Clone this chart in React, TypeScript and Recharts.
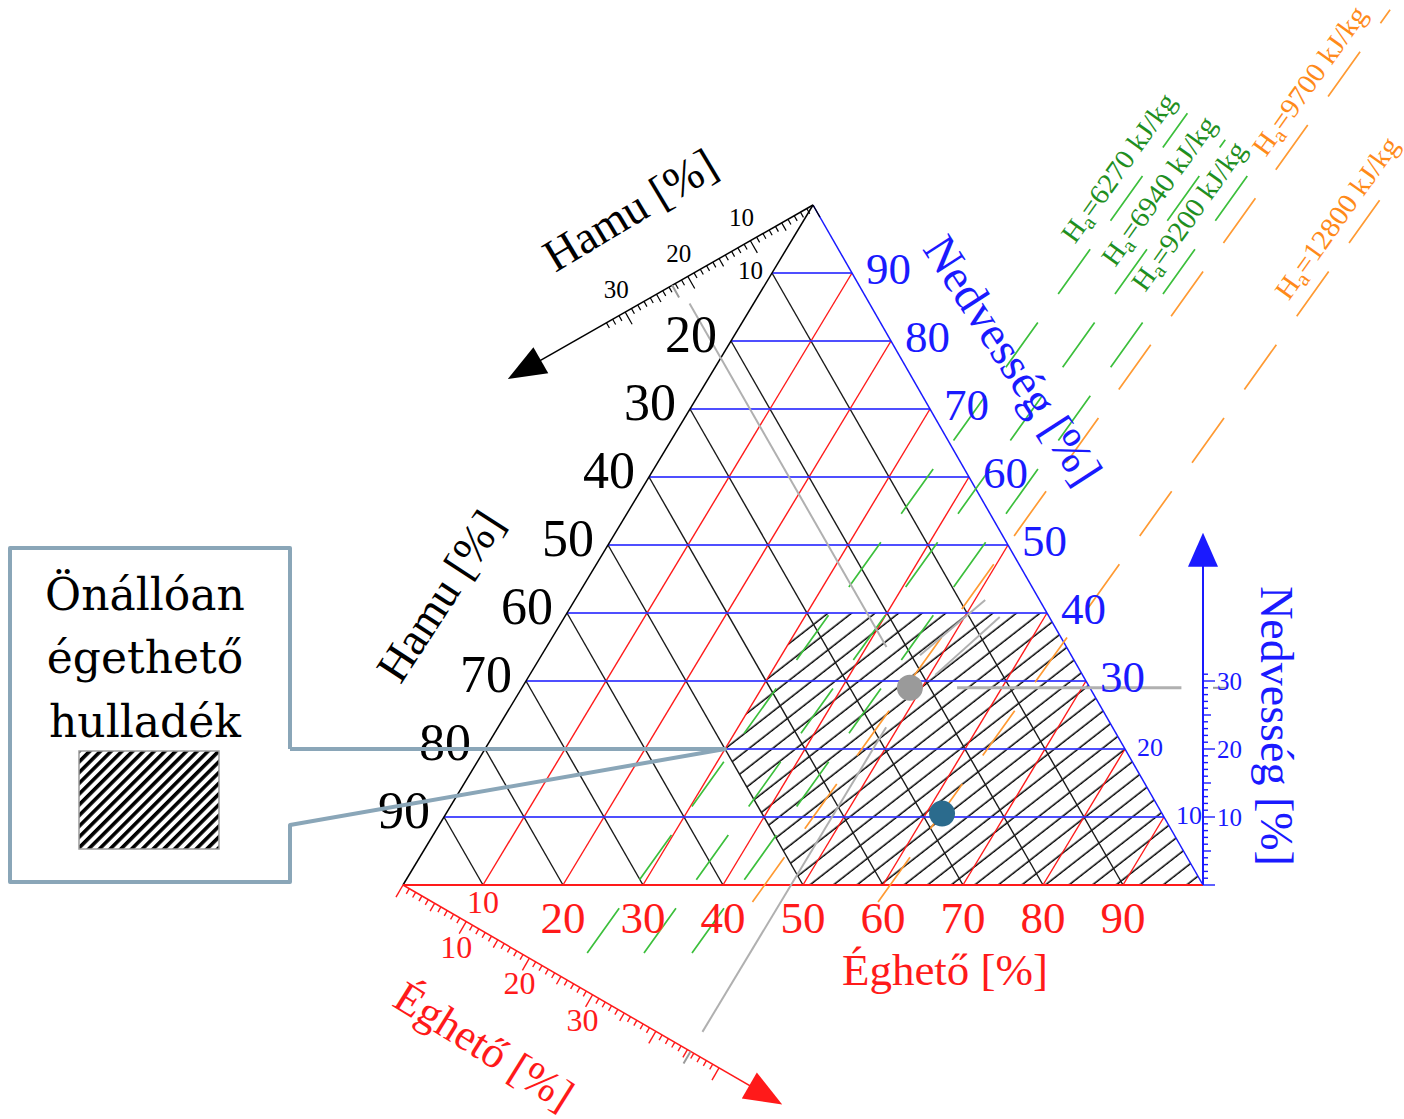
import React from 'react';
import { ComposedChart, XAxis, YAxis, ReferenceLine, Scatter, Area } from 'recharts';

// ---------- drawing frame ----------
const CHART_W = 1404;
const CHART_H = 1119;
const SX = 8; // px per percent along the base
const SY = 6.8; // px per percent of moisture (vertical)
const BASE_LEFT_PX = 403; // 100 % ash corner
const BASE_PY = 885; // base line
const SLANT = 0.5125; // horizontal shift of the moisture corner per percent of moisture

const X_DOMAIN: [number, number] = [-BASE_LEFT_PX / SX, (CHART_W - BASE_LEFT_PX) / SX];
const Y_DOMAIN: [number, number] = [-(CHART_H - BASE_PY) / SY, BASE_PY / SY];

// ternary point (combustible %, moisture %) -> chart coordinates; ash = 100 - E - N
const pt = (e: number, n: number) => ({ x: e + SLANT * n, y: n });
// free-standing annotations placed by pixel position
const atPx = (px: number, py: number) => ({ x: (px - BASE_LEFT_PX) / SX, y: (BASE_PY - py) / SY });

// ---------- data ----------
const gridLevels = [10, 20, 30, 40, 50, 60, 70, 80, 90];
const ashEdgeLabels = ['10', '20', '30', '40', '50', '60', '70', '80', '90'];
const moistureEdgeLabels = ['10', '20', '30', '40', '50', '60', '70', '80', '90'];
const combustibleEdgeLabels = ['10', '20', '30', '40', '50', '60', '70', '80', '90'];
const rulerLabels = ['10', '20', '30'];
const moistureAxisLabels = ['10', '20', '30'];

// lower heating value iso-lines (kJ/kg) and the combustible share where each meets 0 % moisture
const heatingValues = [6270, 6940, 9200, 9700, 12800];
const heatingDryCombustible = [29.1, 36.2, 42.2, 45.2, 60.9];
const heatingGroup = [0, 0, 0, 1, 1];
const HEAT_SLOPE = 0.095; // extra combustible needed per percent of moisture

// self-burning region limits
const selfBurningMaxMoisture = 40;
const selfBurningMinCombustible = 30;
const selfBurningMaxAsh = 50;

// waste samples
const sampleCombustible = [48.5, 62];
const sampleMoisture = [29, 10.5];

// ---------- layout ----------
const heatingSpan = [[-10, 113.5], [-10, 109.6], [-10, 106.6], [-2.5, 128.7], [-2.5, 100.7]];
const heatingLabelMoisture = [103.4, 100, 96.3, 116.2, 96];

const ASH_RULER = { origin: pt(0, 100), step: { x: -0.7825, y: -0.525 }, last: 33, arrow: 48.75 };
const COMB_RULER = { origin: pt(0, 0), step: { x: 0.79, y: -0.538 }, last: 50, arrow: 60 };
const MOIST_AXIS = { x: 100, last: 31, arrow: 51.8 };

const along = (r: typeof ASH_RULER, v: number) => ({ x: r.origin.x + r.step.x * v, y: r.origin.y + r.step.y * v });
const pxAngle = (dx: number, dy: number) => (Math.atan2(-dy * SY, dx * SX) * 180) / Math.PI;
const unitPx = (dx: number, dy: number) => {
  const a = dx * SX;
  const b = -dy * SY;
  const l = Math.hypot(a, b);
  return { x: a / l, y: b / l };
};

const DIGIT_FONT = '"Liberation Serif", serif';
const WORD_FONT = '"Liberation Serif", serif';
const BOX_FONT = '"DejaVu Serif", serif';

const BLUE = '#1a1aff';
const RED = '#ff1a1a';
const HEAT_LINE = ['#3cbf3c', '#ff9a33'];
const HEAT_TEXT = ['#1f8f1f', '#ff8a1a'];
const READ_GRAY = '#b0b0b0';

// ---------- helpers ----------
function interpAt(poly: { x: number; y: number }[], x: number) {
  for (let i = 0; i < poly.length - 1; i++) {
    const a = poly[i];
    const b = poly[i + 1];
    if (x >= Math.min(a.x, b.x) - 1e-9 && x <= Math.max(a.x, b.x) + 1e-9) {
      if (Math.abs(b.x - a.x) < 1e-9) return Math.max(a.y, b.y);
      return a.y + ((x - a.x) / (b.x - a.x)) * (b.y - a.y);
    }
  }
  return 0;
}

function selfBurningBand() {
  const nCorner = 100 - selfBurningMaxAsh - selfBurningMinCombustible;
  const corner = pt(selfBurningMinCombustible, nCorner);
  const upper = [
    corner,
    pt(selfBurningMinCombustible, selfBurningMaxMoisture),
    pt(100 - selfBurningMaxMoisture, selfBurningMaxMoisture),
    pt(100, 0),
  ];
  const lower = [corner, pt(100 - selfBurningMaxAsh, 0), pt(100, 0)];
  const xs = [...upper, ...lower]
    .map((p) => p.x)
    .sort((a, b) => a - b)
    .filter((v, i, arr) => i === 0 || v - arr[i - 1] > 1e-9);
  return xs.map((x) => ({ x, band: [interpAt(lower, x), interpAt(upper, x)] }));
}

type TextOpts = {
  size: number;
  color: string;
  anchor?: 'start' | 'middle' | 'end';
  dx?: number;
  dy?: number;
  rotate?: number;
  family?: string;
  length?: number;
};

const textShape = (o: TextOpts) => (p: any) => {
  const { cx, cy, payload } = p;
  return (
    <text
      x={cx + (o.dx ?? 0)}
      y={cy + (o.dy ?? 0)}
      textAnchor={o.anchor ?? 'middle'}
      dominantBaseline="central"
      fontFamily={o.family ?? DIGIT_FONT}
      fontSize={o.size}
      fill={o.color}
      textLength={o.length}
      lengthAdjust={o.length ? 'spacingAndGlyphs' : undefined}
      transform={o.rotate ? `rotate(${o.rotate} ${cx} ${cy})` : undefined}
    >
      {payload.t}
    </text>
  );
};

const tickShape = (nx: number, ny: number, color: string, lens: [number, number, number], width = 1.2) => (p: any) => {
  const v = p.payload.v;
  const len = v % 10 === 0 ? lens[2] : v % 5 === 0 ? lens[1] : lens[0];
  return <line x1={p.cx} y1={p.cy} x2={p.cx + nx * len} y2={p.cy + ny * len} stroke={color} strokeWidth={width} />;
};

const markShape = (nx: number, ny: number, len: number) => (p: any) => (
  <line x1={p.cx} y1={p.cy} x2={p.cx + nx * len} y2={p.cy + ny * len} stroke="#9a9a9a" strokeWidth={2} />
);

const arrowShape = (angle: number, color: string, len = 38, half = 15) => (p: any) => {
  const { cx, cy } = p;
  return (
    <polygon
      points={`0,0 ${-len},${-half} ${-len},${half}`}
      fill={color}
      transform={`translate(${cx} ${cy}) rotate(${angle})`}
    />
  );
};

const dotShape = (color: string) => (p: any) => <circle cx={p.cx} cy={p.cy} r={13} fill={color} />;

const HEAT_ANGLE = pxAngle(HEAT_SLOPE + SLANT, 1);

const heatLabelShape = (p: any) => {
  const { cx, cy, payload } = p;
  const g = payload.g;
  return (
    <text
      x={cx}
      y={cy - 15}
      textAnchor="middle"
      fontFamily={WORD_FONT}
      fontSize={28}
      fill={HEAT_TEXT[g]}
      textLength={payload.value >= 10000 ? 192 : 176}
      lengthAdjust="spacingAndGlyphs"
      transform={`rotate(${HEAT_ANGLE} ${cx} ${cy})`}
    >
      H
      <tspan fontSize={21} dy={5}>
        a
      </tspan>
      <tspan dy={-5}>={payload.value} kJ/kg</tspan>
    </text>
  );
};

const calloutShape = (p: any) => {
  const { cx, cy } = p;
  const L = 10;
  const R = 290;
  const T = 548;
  const B = 882;
  const lowNotch = 825;
  const outline = `M ${R} ${cy} L ${R} ${T} L ${L} ${T} L ${L} ${B} L ${R} ${B} L ${R} ${lowNotch} L ${cx} ${cy} L ${R} ${cy}`;
  return (
    <g>
      <path d={outline} fill="none" stroke="#8aa6b8" strokeWidth={4} strokeLinejoin="round" />
      <text x={145} y={610} textAnchor="middle" fontFamily={BOX_FONT} fontSize={44} fill="#000">
        Önállóan
      </text>
      <text x={145} y={673} textAnchor="middle" fontFamily={BOX_FONT} fontSize={44} fill="#000">
        égethető
      </text>
      <text x={145} y={737} textAnchor="middle" fontFamily={BOX_FONT} fontSize={44} fill="#000">
        hulladék
      </text>
      <rect x={79} y={751} width={140} height={98} fill="url(#legendStripes)" stroke="#9a9a9a" strokeWidth={1.5} />
    </g>
  );
};

// ---------- series construction ----------
const seg = (a: { x: number; y: number }, b: { x: number; y: number }) => [a, b] as any;

const ashLabelBig = ashEdgeLabels.filter((t) => t !== '10').map((t) => ({ ...pt(0, 100 - Number(t)), t }));
const ashLabelSmall = ashEdgeLabels.filter((t) => t === '10').map((t) => ({ ...pt(0, 100 - Number(t)), t }));
const moistLabelBig = moistureEdgeLabels.filter((t) => Number(t) >= 30).map((t) => ({ ...pt(100 - Number(t), Number(t)), t }));
const moistLabelSmall = moistureEdgeLabels.filter((t) => Number(t) < 30).map((t) => ({ ...pt(100 - Number(t), Number(t)), t }));
const combLabelBig = combustibleEdgeLabels.filter((t) => t !== '10').map((t) => ({ ...pt(Number(t), 0), t }));
const combLabelSmall = combustibleEdgeLabels.filter((t) => t === '10').map((t) => ({ ...pt(Number(t), 0), t }));

const range = (n: number) => Array.from({ length: n + 1 }, (_, i) => i);
const ashRulerTicks = range(ASH_RULER.last).map((v) => ({ ...along(ASH_RULER, v), v }));
const combRulerTicks = range(COMB_RULER.last).map((v) => ({ ...along(COMB_RULER, v), v }));
const moistAxisTicks = range(MOIST_AXIS.last).map((v) => ({ x: MOIST_AXIS.x, y: v, v }));
const ashRulerText = rulerLabels.map((t) => ({ ...along(ASH_RULER, Number(t)), t }));
const combRulerText = rulerLabels.map((t) => ({ ...along(COMB_RULER, Number(t)), t }));
const moistAxisText = moistureAxisLabels.map((t) => ({ x: MOIST_AXIS.x, y: Number(t), t }));

const ASH_DIR = unitPx(ASH_RULER.step.x, ASH_RULER.step.y);
const COMB_DIR = unitPx(COMB_RULER.step.x, COMB_RULER.step.y);
const ASH_NORMAL = { x: ASH_DIR.y, y: -ASH_DIR.x }; // away from the triangle
const COMB_NORMAL = { x: -COMB_DIR.y, y: COMB_DIR.x };

const heatE = (i: number, n: number) => heatingDryCombustible[i] + HEAT_SLOPE * n;
const heatLabels = heatingValues.map((value, i) => ({
  ...pt(heatE(i, heatingLabelMoisture[i]), heatingLabelMoisture[i]),
  value,
  g: heatingGroup[i],
}));

// reading lines for the first sample
const sE = sampleCombustible[0];
const sN = sampleMoisture[0];
const sH = 100 - sE - sN;

export default function App() {
  const band = selfBurningBand();
  const samples = sampleCombustible.map((e, i) => ({ ...pt(e, sampleMoisture[i]) }));

  return (
    <div style={{ position: 'absolute', left: 0, top: 0, width: CHART_W, height: CHART_H, background: '#fff' }}>
      <ComposedChart width={CHART_W} height={CHART_H} margin={{ top: 0, right: 0, bottom: 0, left: 0 }}>
        <defs>
          <pattern id="selfBurningHatch" width="16" height="14.5" patternUnits="userSpaceOnUse" patternTransform="rotate(-38)">
            <line x1="0" y1="7" x2="16" y2="7" stroke="#000" strokeWidth="1.5" />
          </pattern>
          <pattern id="legendStripes" width="8" height="7.6" patternUnits="userSpaceOnUse" patternTransform="rotate(-45)">
            <rect x="0" y="0" width="8" height="3.6" fill="#000" />
          </pattern>
        </defs>
        <XAxis type="number" dataKey="x" domain={X_DOMAIN} hide allowDataOverflow />
        <YAxis type="number" dataKey="y" domain={Y_DOMAIN} hide allowDataOverflow />

        <Area data={band} dataKey="band" type="linear" stroke="none" fill="url(#selfBurningHatch)" fillOpacity={1} isAnimationActive={false} />

        {/* constant ash lines */}
        {gridLevels.map((h) => (
          <ReferenceLine key={`h${h}`} segment={seg(pt(100 - h, 0), pt(0, 100 - h))} stroke="#1a1a1a" strokeWidth={1.4} />
        ))}
        {/* constant combustible lines */}
        {gridLevels.map((e) => (
          <ReferenceLine key={`e${e}`} segment={seg(pt(e, 0), pt(e, 100 - e))} stroke={RED} strokeWidth={1.4} />
        ))}
        {/* constant moisture lines */}
        {gridLevels.map((n) => (
          <ReferenceLine key={`n${n}`} segment={seg(pt(0, n), pt(100 - n, n))} stroke="#3030ff" strokeWidth={2} strokeOpacity={0.85} />
        ))}

        {/* triangle edges */}
        <ReferenceLine segment={seg(pt(0, 0), pt(0, 100))} stroke="#000" strokeWidth={1.5} />
        <ReferenceLine segment={seg(pt(100, 0), pt(0, 100))} stroke={BLUE} strokeWidth={1.5} />
        <ReferenceLine segment={seg(pt(0, 0), pt(100, 0))} stroke={RED} strokeWidth={2.2} />

        {/* heating value iso-lines */}
        {heatingValues.map((v, i) => (
          <ReferenceLine
            key={`q${v}`}
            segment={seg(pt(heatE(i, heatingSpan[i][0]), heatingSpan[i][0]), pt(heatE(i, heatingSpan[i][1]), heatingSpan[i][1]))}
            stroke={HEAT_LINE[heatingGroup[i]]}
            strokeWidth={1.7}
            strokeDasharray="55 35"
          />
        ))}

        {/* reading lines of the first sample */}
        <ReferenceLine segment={seg(pt(100 - sH - 85.5, 85.5), pt(100 - sH - 35, 35))} stroke={READ_GRAY} strokeWidth={2} />
        <ReferenceLine segment={seg(pt(sE, -21.6), pt(sE, 23.2))} stroke={READ_GRAY} strokeWidth={2} />
        <ReferenceLine segment={seg({ x: pt(54.4, sN).x, y: sN }, { x: 97.3, y: sN })} stroke={READ_GRAY} strokeWidth={3} />
        <ReferenceLine segment={seg({ x: 101.25, y: sN }, { x: 103.1, y: sN })} stroke="#999" strokeWidth={2} />
        <ReferenceLine segment={seg(pt(47.3, 33.8), pt(51.3, 41.9))} stroke={READ_GRAY} strokeWidth={2} />
        <ReferenceLine segment={seg(pt(50.7, 30.9), pt(54.4, 39.4))} stroke={READ_GRAY} strokeWidth={2} />

        {/* outer scales */}
        <ReferenceLine segment={seg(ASH_RULER.origin, along(ASH_RULER, ASH_RULER.arrow - 2))} stroke="#000" strokeWidth={1.5} />
        <ReferenceLine segment={seg(COMB_RULER.origin, along(COMB_RULER, COMB_RULER.arrow - 2))} stroke={RED} strokeWidth={1.5} />
        <ReferenceLine segment={seg({ x: MOIST_AXIS.x, y: 0 }, { x: MOIST_AXIS.x, y: MOIST_AXIS.arrow - 2 })} stroke={BLUE} strokeWidth={2} />

        <Scatter data={ashRulerTicks} shape={tickShape(ASH_NORMAL.x, ASH_NORMAL.y, '#000', [6, 9, 14])} isAnimationActive={false} />
        <Scatter data={combRulerTicks} shape={tickShape(COMB_NORMAL.x, COMB_NORMAL.y, RED, [6, 9, 14], 1.4)} isAnimationActive={false} />
        <Scatter data={moistAxisTicks} shape={tickShape(1, 0, BLUE, [5, 8, 12], 1.4)} isAnimationActive={false} />
        <Scatter data={[along(ASH_RULER, sH)]} shape={markShape(ASH_NORMAL.x, ASH_NORMAL.y, 14)} isAnimationActive={false} />
        <Scatter data={[along(COMB_RULER, 45.5)]} shape={markShape(COMB_NORMAL.x, COMB_NORMAL.y, 14)} isAnimationActive={false} />

        <Scatter data={[along(ASH_RULER, ASH_RULER.arrow)]} shape={arrowShape(pxAngle(ASH_RULER.step.x, ASH_RULER.step.y), '#000')} isAnimationActive={false} />
        <Scatter data={[along(COMB_RULER, COMB_RULER.arrow)]} shape={arrowShape(pxAngle(COMB_RULER.step.x, COMB_RULER.step.y), RED)} isAnimationActive={false} />
        <Scatter data={[{ x: MOIST_AXIS.x, y: MOIST_AXIS.arrow }]} shape={arrowShape(-90, BLUE, 34, 15)} isAnimationActive={false} />

        {/* tick labels */}
        <Scatter data={ashLabelBig} shape={textShape({ size: 52, color: '#000', anchor: 'end', dx: -14, dy: -7 })} isAnimationActive={false} />
        <Scatter data={ashLabelSmall} shape={textShape({ size: 25, color: '#000', anchor: 'end', dx: -9, dy: -3 })} isAnimationActive={false} />
        <Scatter data={moistLabelBig} shape={textShape({ size: 45, color: BLUE, anchor: 'start', dx: 14, dy: -4 })} isAnimationActive={false} />
        <Scatter data={moistLabelSmall} shape={textShape({ size: 26, color: BLUE, anchor: 'start', dx: 12, dy: -2 })} isAnimationActive={false} />
        <Scatter data={combLabelBig} shape={textShape({ size: 45, color: RED, dy: 33 })} isAnimationActive={false} />
        <Scatter data={combLabelSmall} shape={textShape({ size: 32, color: RED, dy: 17 })} isAnimationActive={false} />
        <Scatter data={ashRulerText} shape={textShape({ size: 25, color: '#000', dx: -9, dy: -23 })} isAnimationActive={false} />
        <Scatter data={combRulerText} shape={textShape({ size: 32, color: RED, dx: -10, dy: 25 })} isAnimationActive={false} />
        <Scatter data={moistAxisText} shape={textShape({ size: 25, color: BLUE, anchor: 'start', dx: 14 })} isAnimationActive={false} />

        {/* axis titles */}
        <Scatter data={[{ ...atPx(630, 210), t: 'Hamu [%]' }]} shape={textShape({ size: 46, color: '#000', rotate: -31, family: WORD_FONT })} isAnimationActive={false} />
        <Scatter data={[{ ...atPx(440, 596), t: 'Hamu [%]' }]} shape={textShape({ size: 46, color: '#000', rotate: -57, family: WORD_FONT })} isAnimationActive={false} />
        <Scatter data={[{ ...atPx(1013, 360), t: 'Nedvesség [%]' }]} shape={textShape({ size: 47, color: BLUE, rotate: 57, family: WORD_FONT })} isAnimationActive={false} />
        <Scatter data={[{ ...atPx(1276, 726), t: 'Nedvesség [%]' }]} shape={textShape({ size: 46, color: BLUE, rotate: 90, family: WORD_FONT })} isAnimationActive={false} />
        <Scatter data={[{ ...atPx(945, 970), t: 'Éghető [%]' }]} shape={textShape({ size: 45, color: RED, family: WORD_FONT })} isAnimationActive={false} />
        <Scatter data={[{ ...atPx(484, 1046), t: 'Éghető [%]' }]} shape={textShape({ size: 44, color: RED, rotate: 32, family: WORD_FONT })} isAnimationActive={false} />

        {/* heating value labels */}
        <Scatter data={heatLabels} shape={heatLabelShape} isAnimationActive={false} />

        {/* samples */}
        <Scatter data={[samples[0]]} shape={dotShape('#9a9a9a')} isAnimationActive={false} />
        <Scatter data={[samples[1]]} shape={dotShape('#2b6b8d')} isAnimationActive={false} />

        {/* callout for the self-burning region */}
        <Scatter
          data={[pt(selfBurningMinCombustible, 100 - selfBurningMaxAsh - selfBurningMinCombustible)]}
          shape={calloutShape}
          isAnimationActive={false}
        />
      </ComposedChart>
    </div>
  );
}
